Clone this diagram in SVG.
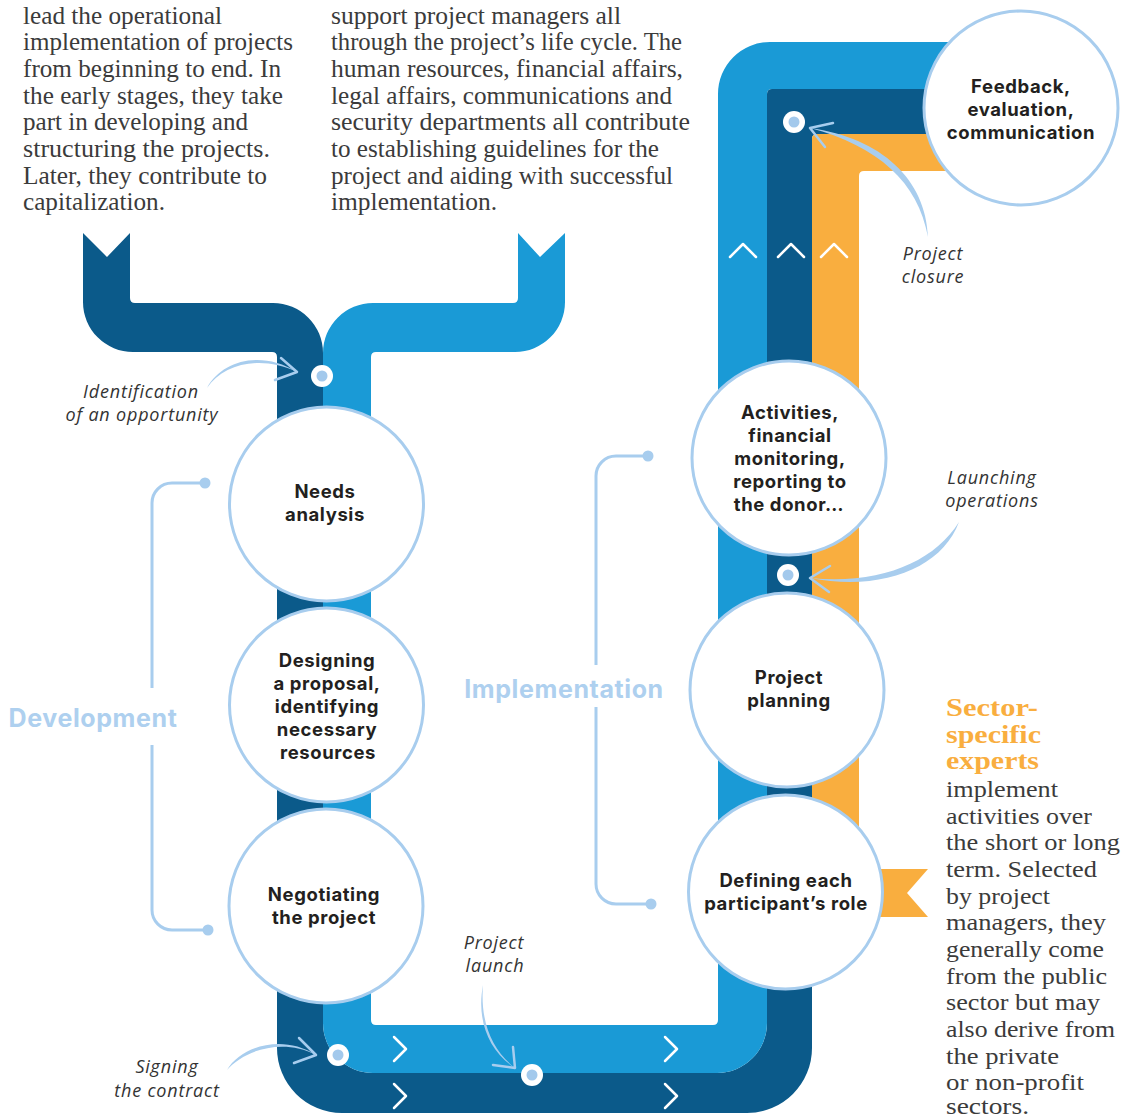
<svg xmlns="http://www.w3.org/2000/svg" width="1128" height="1118" viewBox="0 0 1128 1118">
<style>
.body{font-family:"Liberation Serif","Times New Roman",serif;font-size:25px;fill:#3b3b3b}
.body3{font-family:"Liberation Serif","Times New Roman",serif;font-size:23px;fill:#3b3b3b}
.head{font-family:"Liberation Serif","Times New Roman",serif;font-size:25px;font-weight:bold;fill:#f9ae3f}
.node circle{fill:#fff;stroke:#a8cdee;stroke-width:3}
.lbl{font-family:Inter,"Noto Sans",sans-serif;font-size:18.5px;font-weight:700;fill:#231f20;text-anchor:middle;letter-spacing:0.6px}
.it{font-family:"Open Sans","Noto Sans",sans-serif;font-size:18px;font-style:italic;fill:#333;text-anchor:middle;letter-spacing:0.8px}
.phase{font-family:Inter,"Noto Sans",sans-serif;font-size:25px;font-weight:700;fill:#aed0ef;text-anchor:middle;letter-spacing:0.6px}
.brk{fill:none;stroke:#a8cdee;stroke-width:3}
.brkdot{fill:#a8cdee}
.chev{fill:none;stroke:#fff;stroke-width:2.5;stroke-linecap:round;stroke-linejoin:round}
.arr{fill:#a8cdee}
.ahead{fill:none;stroke:#a8cdee;stroke-width:2.5;stroke-linecap:round;stroke-linejoin:round}
.dotw{fill:#fff}
.doti{fill:#a3c9ec}
</style>

<!-- Text columns -->
<g id="text-project-managers">
<text class="body" x="23" y="23.5" textLength="199" lengthAdjust="spacingAndGlyphs">lead the operational</text>
<text class="body" x="23" y="50.2" textLength="270" lengthAdjust="spacingAndGlyphs">implementation of projects</text>
<text class="body" x="23" y="76.9" textLength="258" lengthAdjust="spacingAndGlyphs">from beginning to end. In</text>
<text class="body" x="23" y="103.6" textLength="260" lengthAdjust="spacingAndGlyphs">the early stages, they take</text>
<text class="body" x="23" y="130.3" textLength="225" lengthAdjust="spacingAndGlyphs">part in developing and</text>
<text class="body" x="23" y="157" textLength="247" lengthAdjust="spacingAndGlyphs">structuring the projects.</text>
<text class="body" x="23" y="183.7" textLength="244" lengthAdjust="spacingAndGlyphs">Later, they contribute to</text>
<text class="body" x="23" y="210.4" textLength="142" lengthAdjust="spacingAndGlyphs">capitalization.</text>
</g>
<g id="text-support">
<text class="body" x="331" y="23.5" textLength="290" lengthAdjust="spacingAndGlyphs">support project managers all</text>
<text class="body" x="331" y="50.2" textLength="351" lengthAdjust="spacingAndGlyphs">through the project’s life cycle. The</text>
<text class="body" x="331" y="76.9" textLength="352" lengthAdjust="spacingAndGlyphs">human resources, financial affairs,</text>
<text class="body" x="331" y="103.6" textLength="341" lengthAdjust="spacingAndGlyphs">legal affairs, communications and</text>
<text class="body" x="331" y="130.3" textLength="359" lengthAdjust="spacingAndGlyphs">security departments all contribute</text>
<text class="body" x="331" y="157" textLength="328" lengthAdjust="spacingAndGlyphs">to establishing guidelines for the</text>
<text class="body" x="331" y="183.7" textLength="342" lengthAdjust="spacingAndGlyphs">project and aiding with successful</text>
<text class="body" x="331" y="210.4" textLength="166" lengthAdjust="spacingAndGlyphs">implementation.</text>
</g>
<g id="text-experts">
<text class="head" x="946" y="716" textLength="92" lengthAdjust="spacingAndGlyphs">Sector-</text>
<text class="head" x="946" y="743" textLength="95" lengthAdjust="spacingAndGlyphs">specific</text>
<text class="head" x="946" y="769" textLength="93" lengthAdjust="spacingAndGlyphs">experts</text>
<text class="body3" x="946" y="797" textLength="112" lengthAdjust="spacingAndGlyphs">implement</text>
<text class="body3" x="946" y="823.7" textLength="146" lengthAdjust="spacingAndGlyphs">activities over</text>
<text class="body3" x="946" y="850.3" textLength="174" lengthAdjust="spacingAndGlyphs">the short or long</text>
<text class="body3" x="946" y="877" textLength="151" lengthAdjust="spacingAndGlyphs">term. Selected</text>
<text class="body3" x="946" y="903.7" textLength="104" lengthAdjust="spacingAndGlyphs">by project</text>
<text class="body3" x="946" y="930.3" textLength="160" lengthAdjust="spacingAndGlyphs">managers, they</text>
<text class="body3" x="946" y="957" textLength="158" lengthAdjust="spacingAndGlyphs">generally come</text>
<text class="body3" x="946" y="983.7" textLength="161" lengthAdjust="spacingAndGlyphs">from the public</text>
<text class="body3" x="946" y="1010.3" textLength="154" lengthAdjust="spacingAndGlyphs">sector but may</text>
<text class="body3" x="946" y="1037" textLength="169" lengthAdjust="spacingAndGlyphs">also derive from</text>
<text class="body3" x="946" y="1063.7" textLength="113" lengthAdjust="spacingAndGlyphs">the private</text>
<text class="body3" x="946" y="1090.3" textLength="138" lengthAdjust="spacingAndGlyphs">or non-profit</text>
<text class="body3" x="946" y="1114" textLength="83" lengthAdjust="spacingAndGlyphs">sectors.</text>
</g>

<!-- Flow bands -->
<g id="flows">
<path id="band-dark" fill="#0b5a8a" d="M83,233 L107,257 L130,233 L130,298 Q130,303 135,303 L273,303 A50,50 0 0 1 323,353 L323,1023 A50,50 0 0 0 373,1073 L717,1073 A50,50 0 0 0 767,1023 L767,94 Q767,89 772,89 L1000,89 L1000,134 L817,134 Q812,134 812,139 L812,1048 A65,65 0 0 1 747,1113 L342,1113 A65,65 0 0 1 277,1048 L277,357 Q277,352 272,352 L133,352 A50,50 0 0 1 83,302 Z"/>
<path id="band-light" fill="#1a9ad6" d="M518,233 L540,257 L565,233 L565,302 A50,50 0 0 1 515,352 L376,352 Q371,352 371,357 L371,1020 Q371,1025 376,1025 L713,1025 Q718,1025 718,1020 L718,94 A52,52 0 0 1 770,42 L1000,42 L1000,89 L772,89 Q767,89 767,94 L767,1023 A50,50 0 0 1 717,1073 L373,1073 A50,50 0 0 1 323,1023 L323,353 A50,50 0 0 1 373,303 L513,303 Q518,303 518,298 Z"/>
<path id="band-orange" fill="#f9ae3f" d="M812,917 L812,139 Q812,134 817,134 L1000,134 L1000,171 L864,171 Q859,171 859,176 L859,869 L928,869 L907,893 L928,917 Z"/>
<g id="chevrons">
<polyline class="chev" points="730,257 743,244 756,257"/>
<polyline class="chev" points="778,257 791,244 804,257"/>
<polyline class="chev" points="821,257 834,244 847,257"/>
<polyline class="chev" points="394,1037 406,1049 394,1061"/>
<polyline class="chev" points="665,1037 677,1049 665,1061"/>
<polyline class="chev" points="394,1084 406,1096 394,1108"/>
<polyline class="chev" points="665,1084 677,1096 665,1108"/>
</g>
</g>

<!-- Phase brackets -->
<g id="bracket-development">
<path class="brk" d="M205,483 H172 A20,20 0 0 0 152,503 V688 M152,745 V910 A20,20 0 0 0 172,930 H208"/>
<circle class="brkdot" cx="205" cy="483" r="5.5"/>
<circle class="brkdot" cx="208" cy="930" r="5.5"/>
<text class="phase" x="93" y="727">Development</text>
</g>
<g id="bracket-implementation">
<path class="brk" d="M648,456 H616 A20,20 0 0 0 596,476 V665 M596,707 V884 A20,20 0 0 0 616,904 H651"/>
<circle class="brkdot" cx="648" cy="456" r="5.5"/>
<circle class="brkdot" cx="651" cy="904" r="5.5"/>
<text class="phase" x="564" y="698">Implementation</text>
</g>

<!-- Nodes -->
<g id="node-needs" class="node">
<circle cx="326.5" cy="504" r="97"/>
<text class="lbl" x="325" y="497.5">Needs</text>
<text class="lbl" x="325" y="520.5">analysis</text>
</g>
<g id="node-designing" class="node">
<circle cx="326.5" cy="705" r="97"/>
<text class="lbl" x="327" y="667">Designing</text>
<text class="lbl" x="327" y="690">a proposal,</text>
<text class="lbl" x="327" y="713">identifying</text>
<text class="lbl" x="327" y="736">necessary</text>
<text class="lbl" x="328" y="759">resources</text>
</g>
<g id="node-negotiating" class="node">
<circle cx="326" cy="906" r="97"/>
<text class="lbl" x="324" y="901">Negotiating</text>
<text class="lbl" x="324" y="924">the project</text>
</g>
<g id="node-defining" class="node">
<circle cx="785.5" cy="892" r="97"/>
<text class="lbl" x="786" y="887">Defining each</text>
<text class="lbl" x="786" y="910">participant’s role</text>
</g>
<g id="node-planning" class="node">
<circle cx="787" cy="690" r="97"/>
<text class="lbl" x="789" y="684">Project</text>
<text class="lbl" x="789" y="707">planning</text>
</g>
<g id="node-activities" class="node">
<circle cx="789" cy="458" r="97"/>
<text class="lbl" x="790" y="419">Activities,</text>
<text class="lbl" x="790" y="442">financial</text>
<text class="lbl" x="790" y="465">monitoring,</text>
<text class="lbl" x="790" y="488">reporting to</text>
<text class="lbl" x="789" y="511">the donor…</text>
</g>
<g id="node-feedback" class="node">
<circle cx="1021" cy="108" r="97"/>
<text class="lbl" x="1021" y="93">Feedback,</text>
<text class="lbl" x="1021" y="116">evaluation,</text>
<text class="lbl" x="1021" y="139">communication</text>
</g>

<!-- Milestones -->
<g id="milestones">
<g id="m-identification"><circle class="dotw" cx="322" cy="376" r="11"/><circle class="doti" cx="322" cy="376" r="5.5"/></g>
<g id="m-signing"><circle class="dotw" cx="338" cy="1055" r="11"/><circle class="doti" cx="338" cy="1055" r="5.5"/></g>
<g id="m-launch"><circle class="dotw" cx="532" cy="1075" r="11"/><circle class="doti" cx="532" cy="1075" r="5.5"/></g>
<g id="m-operations"><circle class="dotw" cx="788" cy="575" r="11"/><circle class="doti" cx="788" cy="575" r="5.5"/></g>
<g id="m-closure"><circle class="dotw" cx="794" cy="122" r="11"/><circle class="doti" cx="794" cy="122" r="5.5"/></g>
</g>

<!-- Connectors (pointer arrows) -->
<g id="connectors">
<path class="arr" d="M207,388 C222,360 262,350 297,372 C262,355 224,363 207,388 Z"/>
<polyline class="ahead" points="281,358 297,372 275,380"/>
<path class="arr" d="M928,237 C926,180 882,138 810,128 C878,146 918,182 928,237 Z"/>
<polyline class="ahead" points="833,123 810,128 825,147"/>
<path class="arr" d="M959,522 C942,568 882,592 810,578 C880,585 934,562 959,522 Z"/>
<polyline class="ahead" points="830,566 810,578 829,592"/>
<path class="arr" d="M227,1070 C240,1047 282,1033 316,1055 C282,1037 243,1051 227,1070 Z"/>
<polyline class="ahead" points="299,1038 316,1055 294,1063"/>
<path class="arr" d="M483,985 C476,1022 490,1052 515,1068 C492,1050 480,1022 483,985 Z"/>
<polyline class="ahead" points="513,1047 515,1068 493,1065"/>
</g>

<!-- Milestone labels -->
<g id="milestone-labels">
<text class="it" x="141" y="398">Identification</text>
<text class="it" x="142" y="421">of an opportunity</text>
<text class="it" x="933" y="260">Project</text>
<text class="it" x="933" y="283">closure</text>
<text class="it" x="992" y="484">Launching</text>
<text class="it" x="992" y="507">operations</text>
<text class="it" x="494" y="949">Project</text>
<text class="it" x="495" y="972">launch</text>
<text class="it" x="167" y="1073">Signing</text>
<text class="it" x="167" y="1097">the contract</text>
</g>
</svg>
